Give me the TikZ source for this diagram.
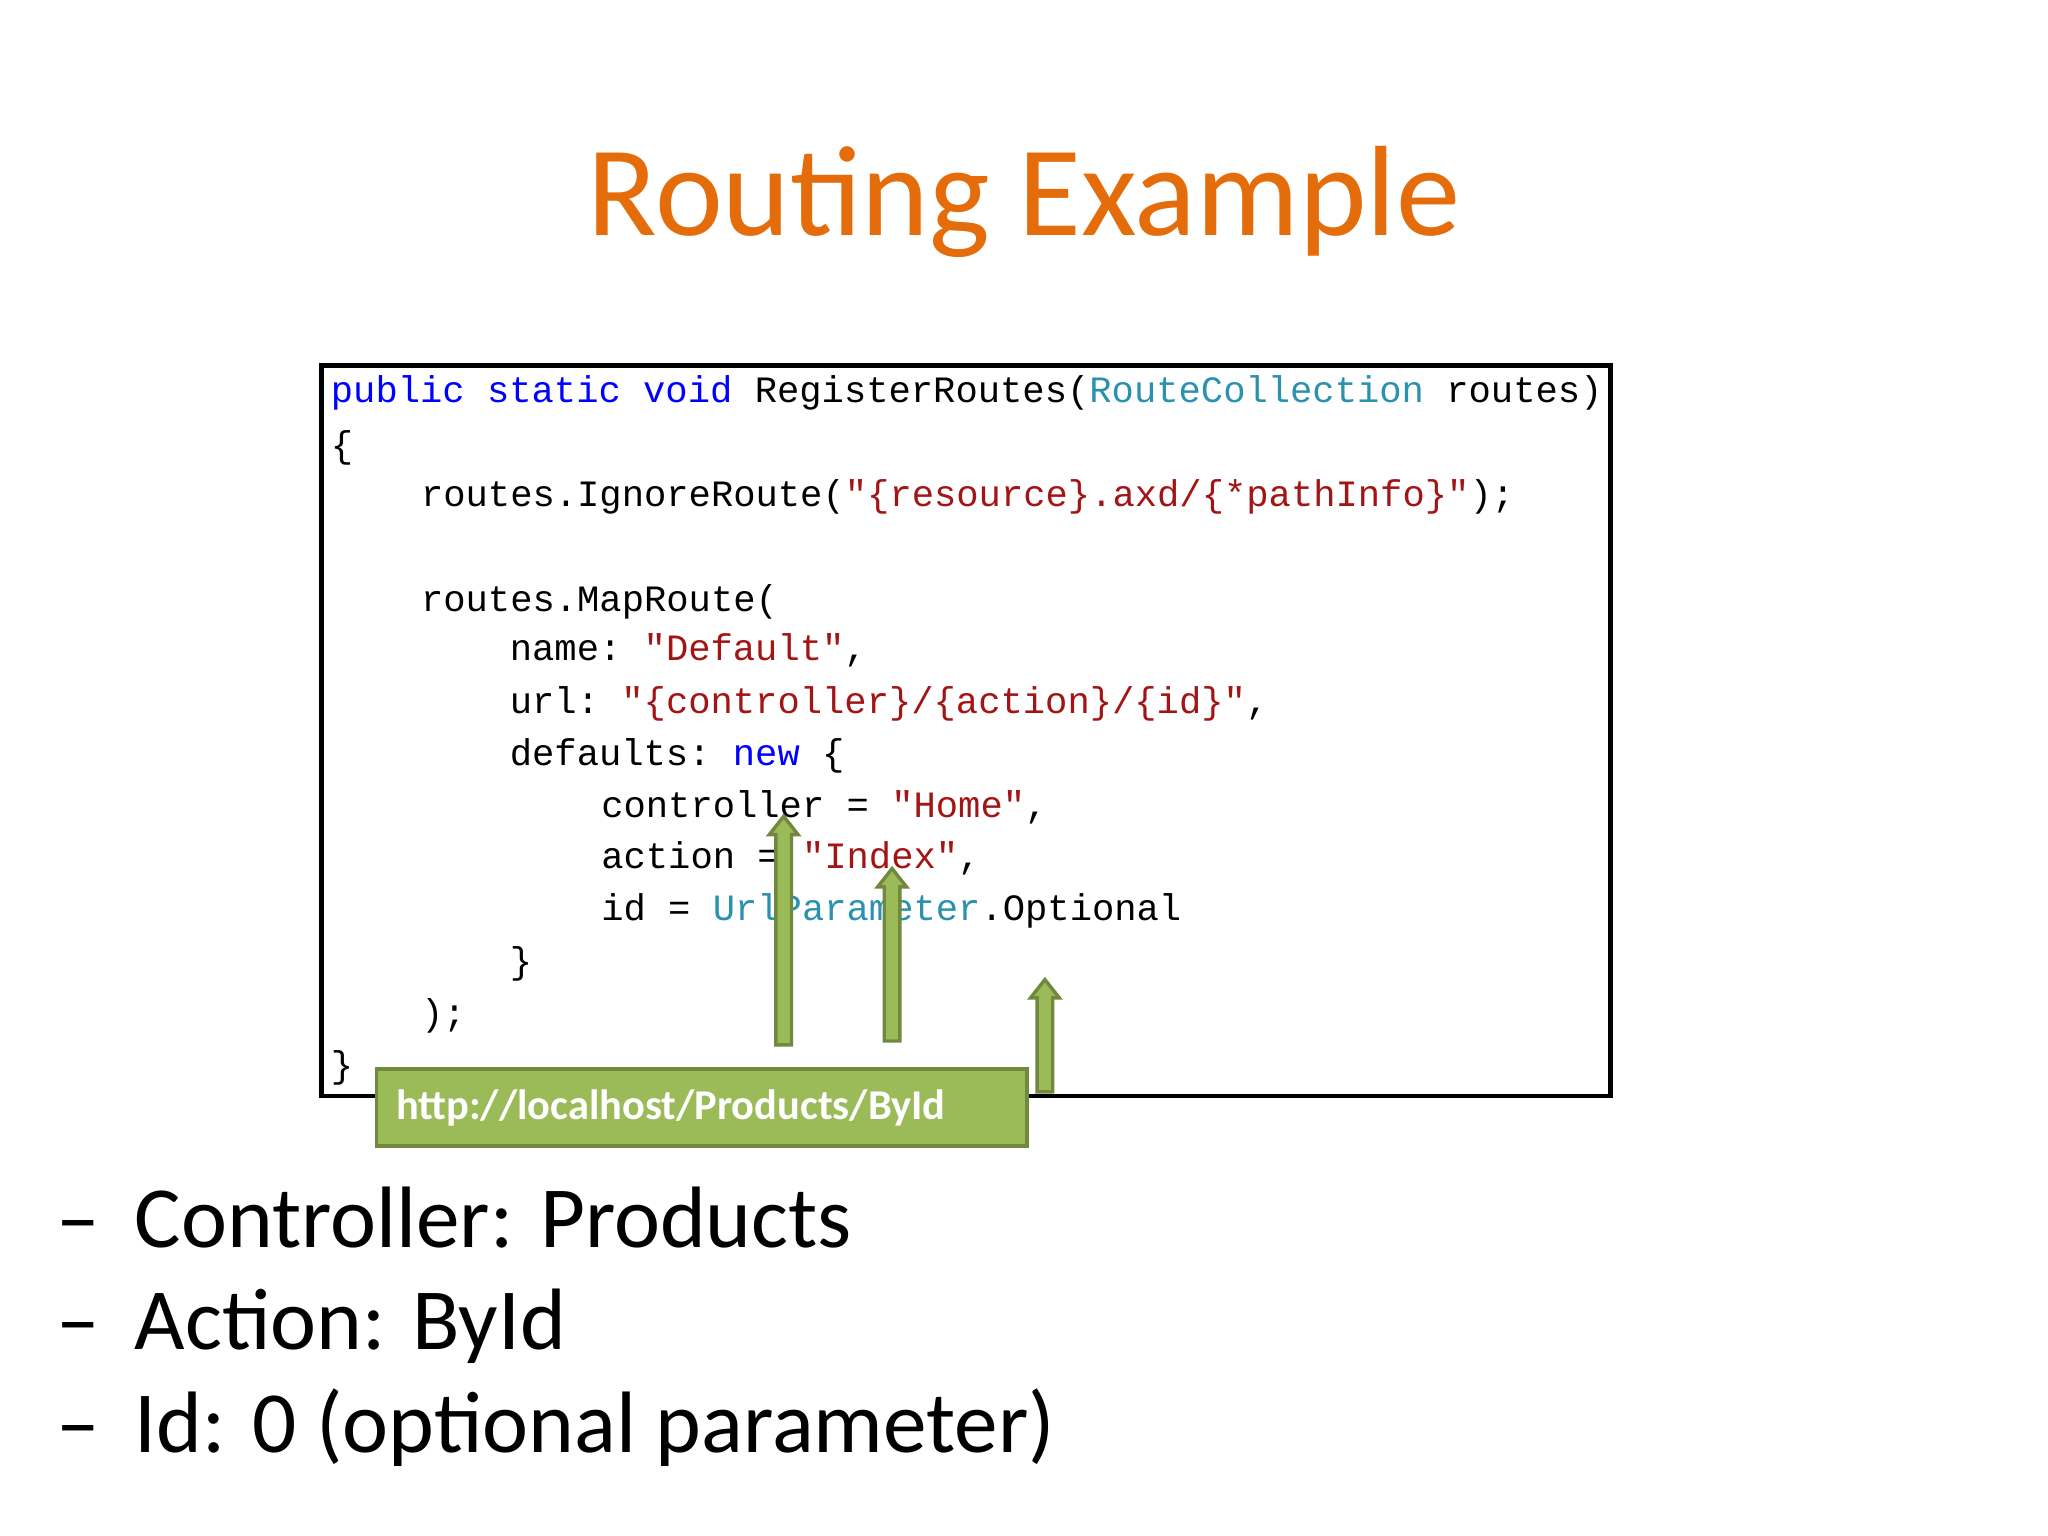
\documentclass[tikz,border=0pt]{standalone}
\usepackage{fontspec}
\setmainfont{Carlito}
\setmonofont{Liberation Mono}
\definecolor{kw}{RGB}{0,0,255}
\definecolor{ty}{RGB}{43,145,175}
\definecolor{st}{RGB}{163,21,21}
\definecolor{ttl}{RGB}{228,108,10}
\definecolor{gfill}{RGB}{155,187,89}
\definecolor{gline}{RGB}{113,137,63}
\tikzset{code/.style={anchor=base west,inner sep=0pt,font=\fontsize{16.2}{18}\ttfamily},
 bul/.style={anchor=base west,inner sep=0pt,font=\fontsize{38}{44}\selectfont},
 garrow/.style={fill=gfill,draw=gline,line width=1.5pt}}
\newcommand{\uparr}[3]{\fill[garrow] (#1-6,#3) -- (#1-6,#2+14) -- (#1-11,#2+14) -- (#1,#2) -- (#1+11,#2+14) -- (#1+6,#2+14) -- (#1+6,#3) -- cycle;}
\begin{document}
\begin{tikzpicture}[x=0.02cm,y=-0.02cm]
\useasboundingbox (0,0) rectangle (1568,1176);
\node[anchor=base,inner sep=0pt,text=ttl,font=\fontsize{56}{60}\selectfont] (title) at (784,180) {Routing Example};
\draw[line width=2pt] (246,280) rectangle (1233,839);
\node[code] (l1) at (253,308) {\textcolor{kw}{public static void} RegisterRoutes(\textcolor{ty}{RouteCollection} routes)};
\node[code] (l2) at (253,350) {\{};
\node[code] (l3) at (322,388) {routes.IgnoreRoute(\textcolor{st}{"\{resource\}.axd/\{*pathInfo\}"});};
\node[code] (l4) at (322,468) {routes.MapRoute(};
\node[code] (l5) at (390,506) {name: \textcolor{st}{"Default"},};
\node[code] (l6) at (390,546) {url: \textcolor{st}{"\{controller\}/\{action\}/\{id\}"},};
\node[code] (l7) at (390,586) {defaults: \textcolor{kw}{new} \{};
\node[code] (l8) at (460,626) {controller = \textcolor{st}{"Home"},};
\node[code] (l9) at (460,665) {action = \textcolor{st}{"Index"},};
\node[code] (l10) at (460,705) {id = \textcolor{ty}{UrlParameter}.Optional};
\node[code] (l11) at (390,745) {\}};
\node[code] (l12) at (322,785) {);};
\node[code] (l13) at (253,825) {\}};
\uparr{600}{625}{800}
\uparr{683}{665}{797}
\uparr{800}{750}{836}
\node[draw=gline,fill=gfill,line width=1.5pt,minimum width=498*0.02cm,minimum height=59*0.02cm,anchor=north west,inner sep=0pt] (url) at (287,817) {};
\node[anchor=base west,inner sep=0pt,text=white,font=\fontsize{18.5}{20}\bfseries] (urlt) at (303,857) {http://localhost/Products/ById};
\node[bul] (d1) at (43,955) {–};
\node[bul] (b1) at (103,955) {Controller: Products};
\node[bul] (d2) at (43,1033) {–};
\node[bul] (b2) at (103,1033) {Action: ById};
\node[bul] (d3) at (43,1112) {–};
\node[bul] (b3) at (103,1112) {Id: 0 (optional parameter)};
\end{tikzpicture}
\end{document}
